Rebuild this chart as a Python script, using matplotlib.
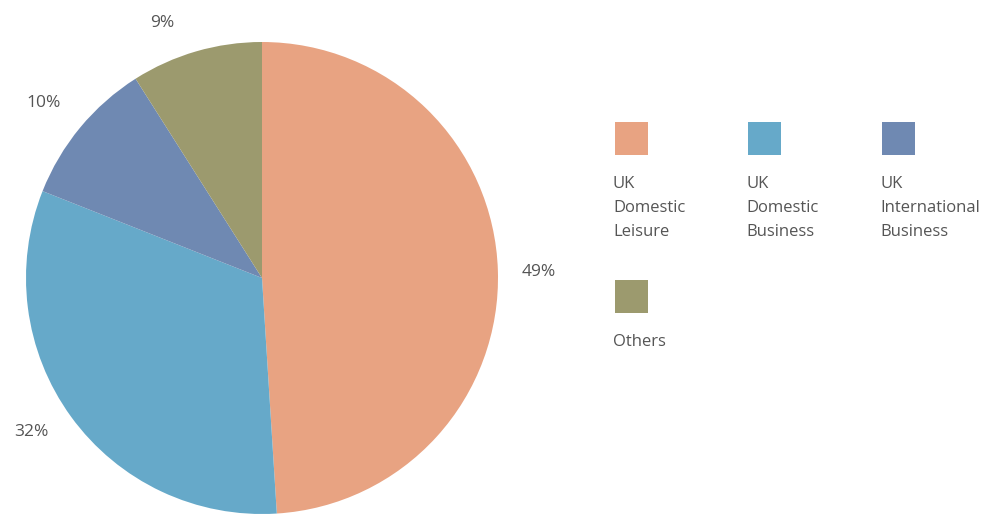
import matplotlib
matplotlib.use("Agg")
import matplotlib.pyplot as plt
from matplotlib.patches import Rectangle

categories = ["UK\nDomestic\nLeisure", "UK\nDomestic\nBusiness", "UK\nInternational\nBusiness", "Others"]
values = [49, 32, 10, 9]
pct_labels = ["49%", "32%", "10%", "9%"]
colors = ["#E8A382", "#66A9C9", "#6F89B2", "#9C9A6E"]

W, H = 986, 514
fig = plt.figure(figsize=(W / 100, H / 100), dpi=100)
ax = fig.add_axes([0, 0, 1, 1])

cx, cy, r = 262, H - 278, 236
ax.pie(values, colors=colors, startangle=90, counterclock=False,
       center=(cx, cy), radius=r, frame=True,
       wedgeprops=dict(linewidth=0))
ax.set_xlim(0, W)
ax.set_ylim(0, H)
ax.set_aspect("equal")
ax.axis("off")

font = "Open Sans"
tcol = "#555555"
label_pos = [(539, 272), (31, 432), (44, 103), (162, 23)]
for lab, (x, y) in zip(pct_labels, label_pos):
    ax.text(x, H - y, lab, ha="center", va="center", fontsize=12.5,
            color=tcol, family=font)

# legend
leg_pos = [(615, 122), (748, 122), (882, 122), (615, 280)]
sq = 33
for lab, col, (x, y) in zip(categories, colors, leg_pos):
    ax.add_patch(Rectangle((x, H - y - sq), sq, sq, facecolor=col, edgecolor="none"))
    for i, line in enumerate(lab.split("\n")):
        ax.text(x - 2, H - (y + 62 + i * 24), line, ha="left", va="center",
                fontsize=12, color=tcol, family=font)

fig.savefig("out.png", dpi=100)
